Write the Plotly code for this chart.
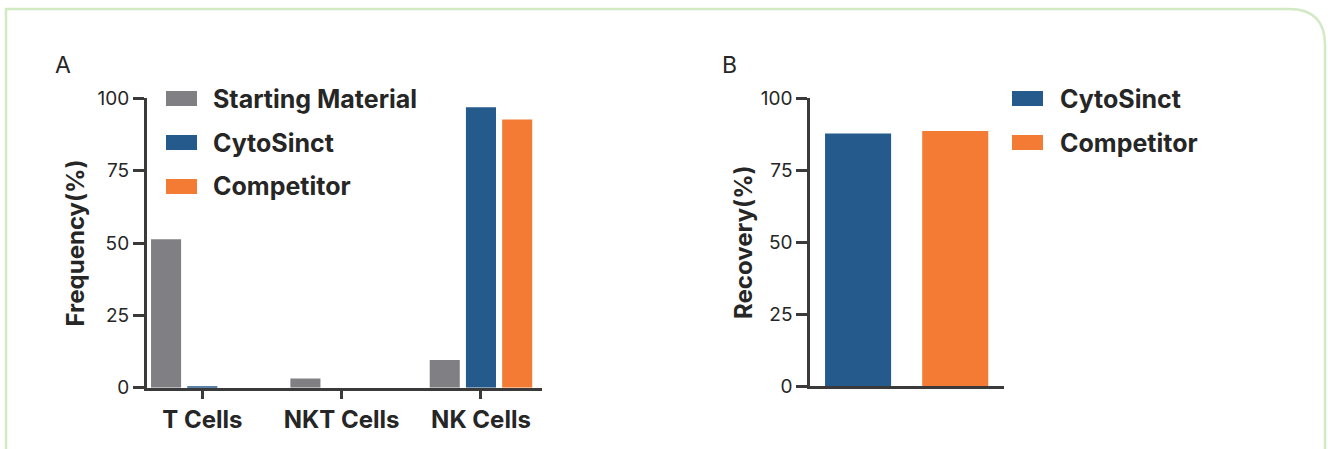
import plotly.graph_objects as go

# ---------------- data ----------------
categories_a = ["T Cells", "NKT Cells", "NK Cells"]
series_names_a = ["Starting Material", "CytoSinct", "Competitor"]
starting_material = [51.3, 3.2, 9.6]
cytosinct_freq = [0.5, 0.0, 96.9]
competitor_freq = [0.0, 0.0, 92.7]

categories_b = ["CytoSinct", "Competitor"]
recovery = [87.8, 88.6]

y_ticks = [0, 25, 50, 75, 100]

colors = {"Starting Material": "#808084", "CytoSinct": "#255a8c", "Competitor": "#f47b33"}

W, H = 1328, 449
FONT = "Inter"
TXT = "#262626"
AX = "#3a3a3a"


def px(x):
    return x / W


def py(y):
    return 1 - y / H


fig = go.Figure()

values_a = [starting_material, cytosinct_freq, competitor_freq]
for name, vals in zip(series_names_a, values_a):
    fig.add_trace(go.Bar(x=categories_a, y=vals, name=name, marker_color=colors[name],
                         marker_line_width=0, xaxis="x", yaxis="y", showlegend=False))

fig.add_trace(go.Bar(x=categories_b, y=recovery, marker_color=[colors[c] for c in categories_b],
                     marker_line_width=0, width=0.68, xaxis="x2", yaxis="y2", showlegend=False))

axis_common = dict(showline=True, linecolor=AX, linewidth=2.5, showgrid=False, zeroline=False,
                   ticks="outside", tickcolor=AX, tickwidth=2.5, automargin=False)

fig.update_layout(
    template="none",
    width=W, height=H,
    margin=dict(l=0, r=0, t=0, b=0, pad=0),
    showlegend=False,
    paper_bgcolor="white", plot_bgcolor="white",
    barmode="group", bargap=0.22, bargroupgap=0.17,
    font=dict(family=FONT, color=TXT),
    xaxis=dict(domain=[px(146.7), px(542)], anchor="y", range=[-0.399, 2.438], ticklen=9,
               tickfont=dict(size=24, family=FONT, weight="bold", color=TXT),
               **axis_common),
    yaxis=dict(domain=[py(387.7), py(98.3)], anchor="x", range=[0, 100], tickvals=y_ticks, ticklen=11,
               tickfont=dict(size=19, color=TXT), ticklabelstandoff=0,
               title=dict(text="<b>Frequency(%)</b>", font=dict(size=24, color=TXT), standoff=7),
               **axis_common),
    xaxis2=dict(domain=[px(810), px(1004.3)], anchor="y2", range=[-0.495, 1.505],
                showticklabels=False, showline=True, linecolor=AX, linewidth=2.5,
                showgrid=False, zeroline=False, ticks="", automargin=False),
    yaxis2=dict(domain=[py(386), py(98.3)], anchor="x2", range=[0, 100], tickvals=y_ticks, ticklen=11,
                tickfont=dict(size=19, color=TXT), ticklabelstandoff=0,
                title=dict(text="<b>Recovery(%)</b>", font=dict(size=24, color=TXT), standoff=2),
                **axis_common),
)

shapes = []
annotations = []

# Legend A
for i, name in enumerate(series_names_a):
    y0 = 91 + 44 * i
    shapes.append(dict(type="rect", xref="paper", yref="paper", x0=px(166), x1=px(197),
                       y0=py(y0 + 15), y1=py(y0), fillcolor=colors[name], line_width=0))
    annotations.append(dict(xref="paper", yref="paper", x=px(211), y=py(y0 + 7.5), text="<b>%s</b>" % name,
                            showarrow=False, xanchor="left", yanchor="middle",
                            font=dict(size=25, color=TXT, family=FONT)))

# Legend B
for i, name in enumerate(categories_b):
    y0 = 91 + 44 * i
    shapes.append(dict(type="rect", xref="paper", yref="paper", x0=px(1012), x1=px(1043),
                       y0=py(y0 + 15), y1=py(y0), fillcolor=colors[name], line_width=0))
    annotations.append(dict(xref="paper", yref="paper", x=px(1058), y=py(y0 + 7.5), text="<b>%s</b>" % name,
                            showarrow=False, xanchor="left", yanchor="middle",
                            font=dict(size=25, color=TXT, family=FONT)))

# Panel labels
annotations.append(dict(xref="paper", yref="paper", x=px(62.5), y=py(65.5), text="A", showarrow=False,
                        xanchor="center", yanchor="middle", font=dict(size=23, color=TXT, family=FONT)))
annotations.append(dict(xref="paper", yref="paper", x=px(729), y=py(65.5), text="B", showarrow=False,
                        xanchor="center", yanchor="middle", font=dict(size=23, color=TXT, family=FONT)))

# Border with rounded top-right corner
path = "M {a},{b} L {a},{c} L {d},{c} Q {e},{c} {e},{f} L {e},{b}".format(
    a=px(6), b=py(470), c=py(9), d=px(1289), e=px(1325), f=py(45))
shapes.append(dict(type="path", xref="paper", yref="paper", path=path,
                   line=dict(color="#d2eac4", width=2.5)))

fig.update_layout(shapes=shapes, annotations=annotations)

fig.write_html("out.html", config={"displayModeBar": False},
               post_script="document.body.style.margin='0';document.body.style.overflow='hidden';")
